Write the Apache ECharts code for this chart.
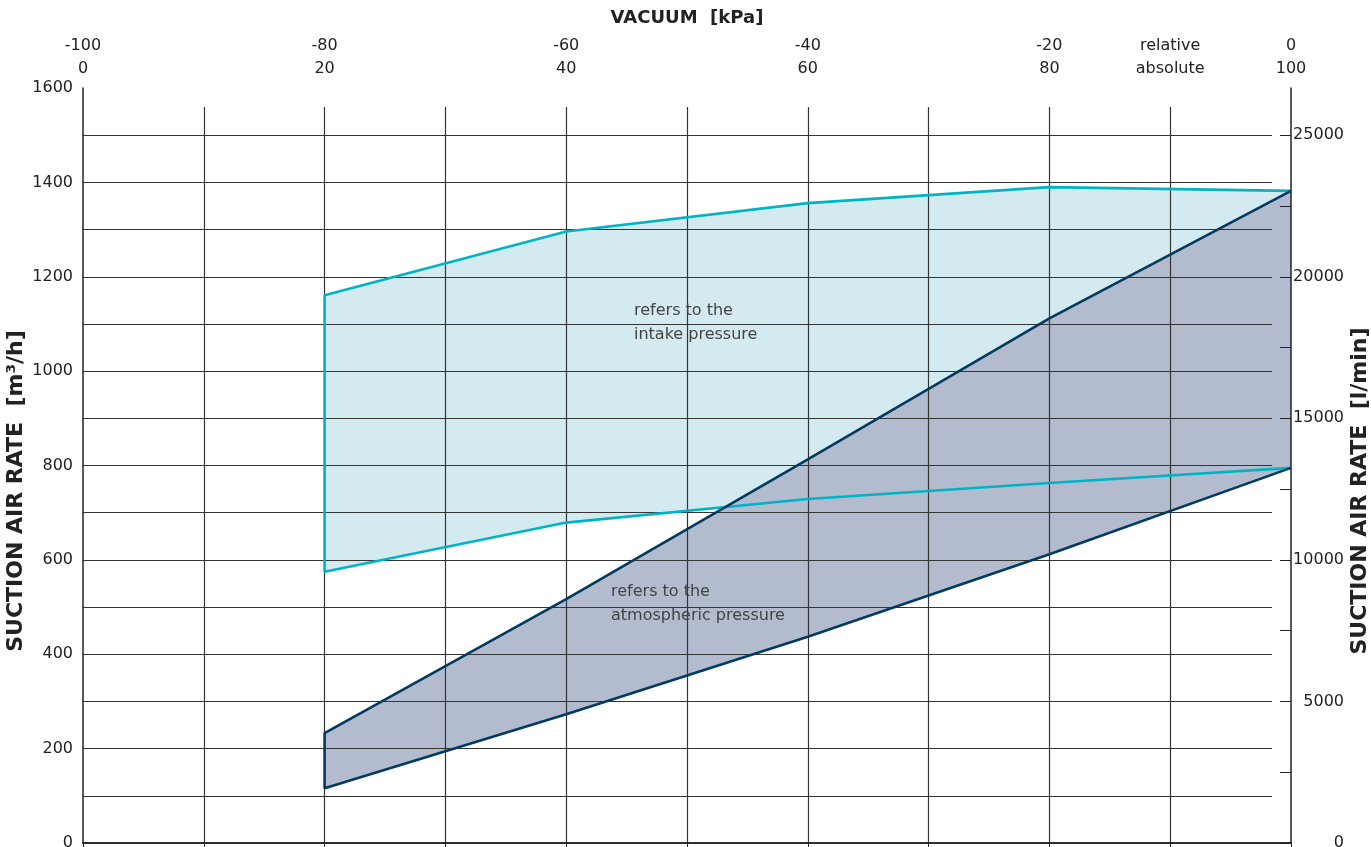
<!DOCTYPE html>
<html><head><meta charset="utf-8">
<script src="https://cdn.jsdelivr.net/npm/echarts@6/dist/echarts.min.js"></script>
<style>html,body{margin:0;padding:0;background:#fff}#c{width:1371px;height:847px}</style>
</head><body><div id="c"></div>
<script>
// absolute pressure [kPa] (relative = absolute - 100)
const absPressure = [20, 40, 60, 80, 100];
// suction air rate [m3/h], referred to intake pressure
const intakeUpper = [1161, 1296, 1356, 1390, 1382];
const intakeLower = [575, 679, 729, 763, 795];
// suction air rate [m3/h], referred to atmospheric pressure
const atmUpper = [233, 517, 813, 1112, 1382];
const atmLower = [116, 273, 437, 612, 795];
const xLabelLines = ['relative', 'absolute'];

const FONT = '"DejaVu Sans", "Open Sans", sans-serif';
const GRID_COLOR = '#353535';
const AXIS_COLOR = '#222';

function outline(upper, lower) {
  const pts = [];
  for (let i = absPressure.length - 1; i >= 0; i--) pts.push([absPressure[i], lower[i]]);
  for (let i = 0; i < absPressure.length; i++) pts.push([absPressure[i], upper[i]]);
  return pts;
}
function band(upper, lower, color) {
  return {
    type: 'custom', xAxisIndex: 0, yAxisIndex: 0, z: 1, silent: true,
    data: [[absPressure[0], lower[0]]],
    renderItem: function (params, api) {
      if (params.dataIndex !== 0) return;
      const pts = outline(upper, lower).map(p => api.coord(p));
      return { type: 'polygon', shape: { points: pts }, style: { fill: color } };
    }
  };
}
function line(upper, lower, color, z) {
  return {
    type: 'line', xAxisIndex: 0, yAxisIndex: 0, z: z, silent: true,
    data: outline(upper, lower), symbol: 'none', smooth: false,
    lineStyle: { color: color, width: 2.6 }
  };
}

const chart = echarts.init(document.getElementById('c'), null, { renderer: 'canvas' });
chart.setOption({
  animation: false,
  backgroundColor: '#fff',
  textStyle: { fontFamily: FONT },
  grid: [
    { left: 83, right: 80, top: 88, bottom: 4, outerBoundsMode: 'none', containLabel: false },
    { left: 83, right: 99, top: 88, bottom: 4, outerBoundsMode: 'none', containLabel: false },
    { left: 83, right: 80, top: 107, bottom: 4, outerBoundsMode: 'none', containLabel: false }
  ],
  xAxis: [
    {
      gridIndex: 0, type: 'value', min: 0, max: 100, interval: 10, position: 'top', z: 6,
      name: 'VACUUM  [kPa]', nameLocation: 'middle', nameGap: 61,
      nameTextStyle: { fontFamily: FONT, fontWeight: 'bold', fontSize: 18, color: AXIS_COLOR },
      axisLine: { show: true, lineStyle: { color: AXIS_COLOR, width: 1.5 } },
      axisTick: { show: true, inside: true, length: 9, lineStyle: { color: AXIS_COLOR, width: 1 } },
      axisLabel: {
        show: true, margin: 8, fontSize: 16, lineHeight: 23, color: AXIS_COLOR, fontFamily: FONT,
        formatter: v => (v % 20 === 0) ? (v - 100) + '\n' + v : (v === 90 ? xLabelLines.join('\n') : '')
      },
      splitLine: { show: false }
    },
    {
      gridIndex: 1, type: 'value', min: 0, max: 100, z: 3,
      axisLine: { show: false }, axisTick: { show: false }, axisLabel: { show: false }, splitLine: { show: false }
    },
    {
      gridIndex: 2, type: 'value', min: 0, max: 100, interval: 10, z: 3,
      axisLine: { show: true, lineStyle: { color: AXIS_COLOR, width: 1.5 } },
      axisTick: { show: false }, axisLabel: { show: false },
      splitLine: { show: true, showMinLine: false, showMaxLine: false, lineStyle: { color: GRID_COLOR, width: 1.2 } }
    }
  ],
  yAxis: [
    {
      gridIndex: 0, type: 'value', min: 0, max: 1600, interval: 200, position: 'left', z: 6,
      axisLine: { show: true, lineStyle: { color: AXIS_COLOR, width: 1.5 } },
      axisTick: { show: false },
      axisLabel: { margin: 10, fontSize: 16, color: AXIS_COLOR, fontFamily: FONT, formatter: v => String(v) },
      splitLine: { show: false }
    },
    {
      gridIndex: 0, type: 'value', min: 0, max: 80000 / 3, interval: 2500, position: 'right', z: 6,
      axisLine: { show: true, lineStyle: { color: AXIS_COLOR, width: 1.5 } },
      axisTick: { show: true, inside: true, length: 11, lineStyle: { color: AXIS_COLOR, width: 1 } },
      axisLabel: {
        margin: 53, align: 'right', fontSize: 16, color: AXIS_COLOR, fontFamily: FONT, showMaxLabel: false,
        formatter: v => (v % 5000 === 0) ? String(v) : ''
      },
      splitLine: { show: false }
    },
    {
      gridIndex: 1, type: 'value', min: 0, max: 1600, interval: 100, z: 3,
      axisLine: { show: false }, axisTick: { show: false }, axisLabel: { show: false },
      splitLine: { show: true, showMinLine: false, showMaxLine: false, lineStyle: { color: GRID_COLOR, width: 1.2 } }
    },
    {
      gridIndex: 2, type: 'value', min: 0, max: 1, z: 3,
      axisLine: { show: false }, axisTick: { show: false }, axisLabel: { show: false }, splitLine: { show: false }
    }
  ],
  series: [
    band(intakeUpper, intakeLower, '#d3ebf0'),
    band(atmUpper, atmLower, '#b3bbcf'),
    line(intakeUpper, intakeLower, '#00b4c6', 5),
    line(atmUpper, atmLower, '#033a60', 6)
  ],
  graphic: [
    { type: 'text', left: 634, top: 299, z: 100, silent: true,
      style: { text: 'refers to the\nintake pressure', font: '16px ' + FONT, fill: '#444', lineHeight: 24 } },
    { type: 'text', left: 611, top: 580, z: 100, silent: true,
      style: { text: 'refers to the\natmospheric pressure', font: '16px ' + FONT, fill: '#444', lineHeight: 24 } },
    { type: 'text', x: 16, y: 491, rotation: Math.PI / 2, z: 100, silent: true,
      style: { text: 'SUCTION AIR RATE  [m³/h]', font: 'bold 22px ' + FONT, fill: AXIS_COLOR, align: 'center', verticalAlign: 'middle' } },
    { type: 'text', x: 1360, y: 491, rotation: Math.PI / 2, z: 100, silent: true,
      style: { text: 'SUCTION AIR RATE  [l/min]', font: 'bold 22px ' + FONT, fill: AXIS_COLOR, align: 'center', verticalAlign: 'middle' } }
  ]
});
</script>
</body></html>
